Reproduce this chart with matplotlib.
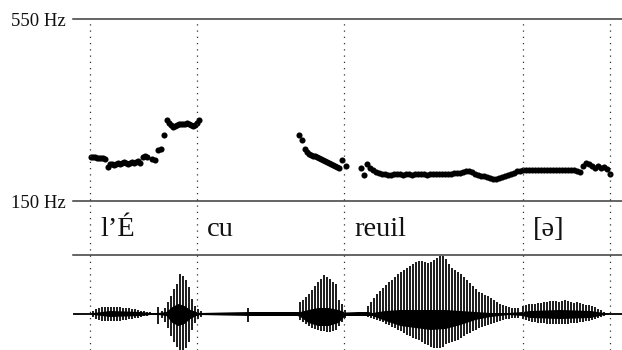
import matplotlib
matplotlib.use("Agg")
import matplotlib.pyplot as plt

# ---------------- data ----------------
# pitch track (time in ms, F0 in Hz)
seg1_t = [36, 40, 44, 48, 52, 56, 60, 64, 70, 74, 78, 82, 86, 90, 94, 98, 102, 106, 110, 114,
          118, 122, 126, 130, 134, 140, 144, 148, 158, 164, 170, 176, 182, 188, 192, 196, 200,
          204, 208, 212, 216, 220, 224, 228, 232, 236, 240, 244, 248, 252]
seg1_hz = [247, 247, 246, 245, 245, 245, 244, 242, 225, 231, 232, 230, 232, 233, 232, 234, 235,
           233, 232, 234, 235, 233, 235, 237, 234, 247, 250, 246, 242, 240, 262, 265, 295, 327,
           322, 316, 313, 315, 317, 319, 320, 319, 320, 321, 320, 318, 315, 317, 321, 327]
seg2_t = [452, 458, 464, 468, 472, 476, 480, 484, 488, 492, 496, 500, 504, 508, 512, 516, 520,
          524, 528, 532, 538, 545]
seg2_hz = [295, 284, 264, 257, 254, 252, 250, 248, 246, 244, 242, 240, 238, 236, 233, 231, 229,
           227, 225, 222, 241, 227]
seg3_t = [576, 582, 588, 594, 600, 606, 612, 618, 624, 630, 636, 642, 648, 654, 660, 666, 672,
          678, 684, 690, 696, 702, 708, 714, 720, 726, 732, 738, 744, 750, 756, 762, 768, 774,
          780, 786, 792, 798, 804, 810, 816, 822, 828, 834, 840, 846, 852, 858, 864, 870, 876,
          882, 888, 894, 900, 906, 912, 918, 924, 930, 936, 942, 948, 954, 960, 966, 972, 978,
          984, 990, 996, 1002, 1008, 1014, 1020, 1026, 1032, 1038, 1044, 1050, 1056, 1062,
          1068, 1074]
seg3_hz = [222, 208, 231, 222, 218, 214, 212, 210, 209, 208,
           208, 209, 209, 209, 208, 209, 209, 208, 209, 209,
           209, 209, 208, 209, 209, 209, 210, 209, 210, 210,
           210, 211, 211, 211, 213, 215, 216, 213, 210, 207,
           206, 205, 203, 201, 199, 198, 200, 203, 205, 207,
           209, 212, 215, 217, 219, 219, 219, 219, 219, 219,
           218, 218, 218, 218, 218, 218, 218, 218, 218, 218,
           219, 218, 217, 213, 226, 233, 232, 227, 223, 226,
           222, 224, 220, 209]

# segmentation tier
boundaries = [34, 248, 542, 900, 1074]
labels = ["l\u2019\u00c9", "cu", "reuil", "[\u0259]"]
hz_ticks = [550, 150]
hz_tick_labels = ["550 Hz", "150 Hz"]

# waveform: glottal strokes (time ms, positive peak, negative peak)
wave_t = [40, 46, 52, 58, 64, 70, 76, 82, 88, 94, 100, 106, 112, 118, 124, 130, 136, 142, 148, 154,
          170,
          178, 184, 190, 196, 202, 208, 214, 220, 226, 232, 238, 244, 250, 256,
          350,
          454, 460, 466, 472, 478, 484, 490, 496, 502, 508, 514, 520, 526, 532, 538, 544,
          590, 596, 602, 608, 614, 620, 626, 632, 638, 644, 650, 656, 662, 668, 674, 680, 686,
          692, 698, 704, 710, 716, 722, 728, 734, 740, 746, 752, 758, 764, 770, 776, 782, 788,
          794, 800, 806, 812, 818, 824, 830, 836, 842, 848, 854, 860, 866, 872, 878, 884, 890,
          900, 906, 912, 918, 924, 930, 936, 942, 948, 954, 960, 966, 972, 978, 984, 990, 996,
          1002, 1008, 1014, 1020, 1026, 1032, 1038, 1044, 1050, 1056, 1062]
wave_top = [3, 5, 6, 6.5, 7, 7, 7, 7, 7, 6.5, 6, 6, 5.5, 5, 4.5, 4, 3, 2.5, 2, 1.5,
            6.5,
            3, 6, 12, 18, 25, 30, 40, 38, 34, 27, 15, 8, 5, 3,
            6,
            12, 14, 17, 20, 24, 28, 32, 35, 39, 37, 35, 32, 30, 14, 10, 4,
            8, 12, 16, 20, 23, 26, 29, 32, 34, 37, 40, 42, 44, 46, 48, 50, 52,
            53, 53, 52, 51, 52, 54, 56, 58, 58, 55, 50, 46, 44, 42, 40, 37, 34,
            31, 28, 25, 22, 21, 19, 18, 16, 14, 12, 10, 9, 8, 7, 6, 6, 6,
            8, 9, 10, 10, 10, 11, 11, 12, 12, 13, 13, 13, 12, 13, 14, 13, 12,
            11, 12, 11, 10, 9, 9, 8, 7, 5, 4, 2]
wave_bot = [3, 5, 6, 7, 7, 7.5, 7.5, 7, 7, 7, 6.5, 6, 5.5, 5, 4.5, 4, 3, 2.5, 2, 1.5,
            10,
            4, 8, 14, 22, 28, 33, 37, 37, 34, 28, 16, 9, 5, 3,
            8,
            6, 8, 10, 12, 14, 15, 16, 17, 17, 18, 18, 17, 16, 12, 8, 4,
            3, 4, 5, 6, 7, 8, 10, 11, 13, 14, 16, 17, 19, 21, 22, 24, 25,
            26, 28, 30, 31, 33, 34, 34, 34, 33, 30, 29, 28, 27, 26, 24, 22, 20,
            19, 17, 16, 14, 13, 12, 11, 10, 9, 8, 7, 6, 5, 5, 4, 4, 4,
            5, 6, 7, 8, 8, 9, 9, 9, 10, 10, 10, 10, 10, 10, 10, 10, 9,
            9, 9, 8, 8, 7, 7, 6, 5, 4, 3, 2]
# dense core of the waveform (envelope knots)
core_t = [0, 36, 40, 74, 134, 154, 170, 186, 198, 210, 222, 234, 246, 254, 300, 354, 400, 448,
          454, 470, 490, 510, 530, 544, 570, 590, 598, 624, 654, 684, 714, 744, 774, 804, 834,
          870, 898, 914, 974, 1034, 1062, 1074, 1098]
core_top = [0.5, 0.5, 1, 3, 2, 1, 1, 2, 7, 10, 8, 4, 2, 1, 1.5, 2, 2, 2, 2, 4, 6, 6, 4, 1.5,
            2, 2, 1, 3, 4, 4, 4, 4, 3, 2, 1, 1, 2, 3, 4, 3, 1, 0.5, 0.5]
core_bot = [0.5, 0.5, 1, 3, 2, 1, 1, 2, 9, 12, 10, 5, 2, 1, 1.5, 2, 2, 2, 3, 9, 12, 12, 9,
            2, 2, 2, 2, 7, 12, 14, 16, 15, 11, 6, 3, 1, 2, 4, 5, 4, 1, 0.5, 0.5]

# ---------------- figure ----------------
W, H = 622, 350
fig = plt.figure(figsize=(W / 100, H / 100), dpi=100)
serif = ["Liberation Serif", "DejaVu Serif"]
XMAX = 1098
left = 73 / W
width = 549 / W
line_col = "#3a3a3a"

ax_p = fig.add_axes([left, (H - 201) / H, width, 182 / H])
ax_t = fig.add_axes([left, (H - 255) / H, width, 54 / H])
ax_w = fig.add_axes([left, 0, width, 95 / H])
ax_o = fig.add_axes([left, 0, width, (H - 19) / H])
for a in (ax_p, ax_t, ax_w, ax_o):
    a.set_xlim(0, XMAX)
    a.axis("off")
ax_o.patch.set_alpha(0)
ax_o.set_ylim(0, 1)

# pitch
ax_p.set_ylim(150, 550)
for hz in hz_ticks:
    ax_p.axhline(hz, color=line_col, lw=1.1, clip_on=False)
fig.text(66 / W, (H - 26) / H, hz_tick_labels[0], ha="right", va="baseline",
         fontsize=13.5, family=serif, color="#111")
fig.text(66 / W, (H - 208) / H, hz_tick_labels[1], ha="right", va="baseline",
         fontsize=13.5, family=serif, color="#111")
for tt, hh in ((seg1_t, seg1_hz), (seg2_t, seg2_hz), (seg3_t, seg3_hz)):
    ax_p.plot(tt, hh, "o", color="black", markersize=4.4, markeredgewidth=0, clip_on=False)

# tier
ax_t.set_ylim(0, 1)
ax_t.axhline(0, color=line_col, lw=1.1, clip_on=False)
for b, lab in zip(boundaries[:-1], labels):
    ax_t.annotate(lab, xy=(b, (255 - 236.5) / 54), xytext=(7.2, 0),
                  textcoords="offset points", ha="left", va="baseline",
                  fontsize=20.5, family=serif, color="#111")

# waveform
ax_w.set_ylim(-36.5, 58.5)
ax_w.axhline(0, color="black", lw=1.2)
ax_w.fill_between(core_t, core_top, [-v for v in core_bot], color="black", lw=0)
ax_w.vlines(wave_t, [-v for v in wave_bot], wave_top, color="black", lw=1.25)

# boundaries
for b in boundaries:
    ax_o.axvline(b, ymin=0, ymax=1, color="#333", lw=0.9, linestyle=(0, (1, 4)))

fig.savefig("out.png", dpi=100)
